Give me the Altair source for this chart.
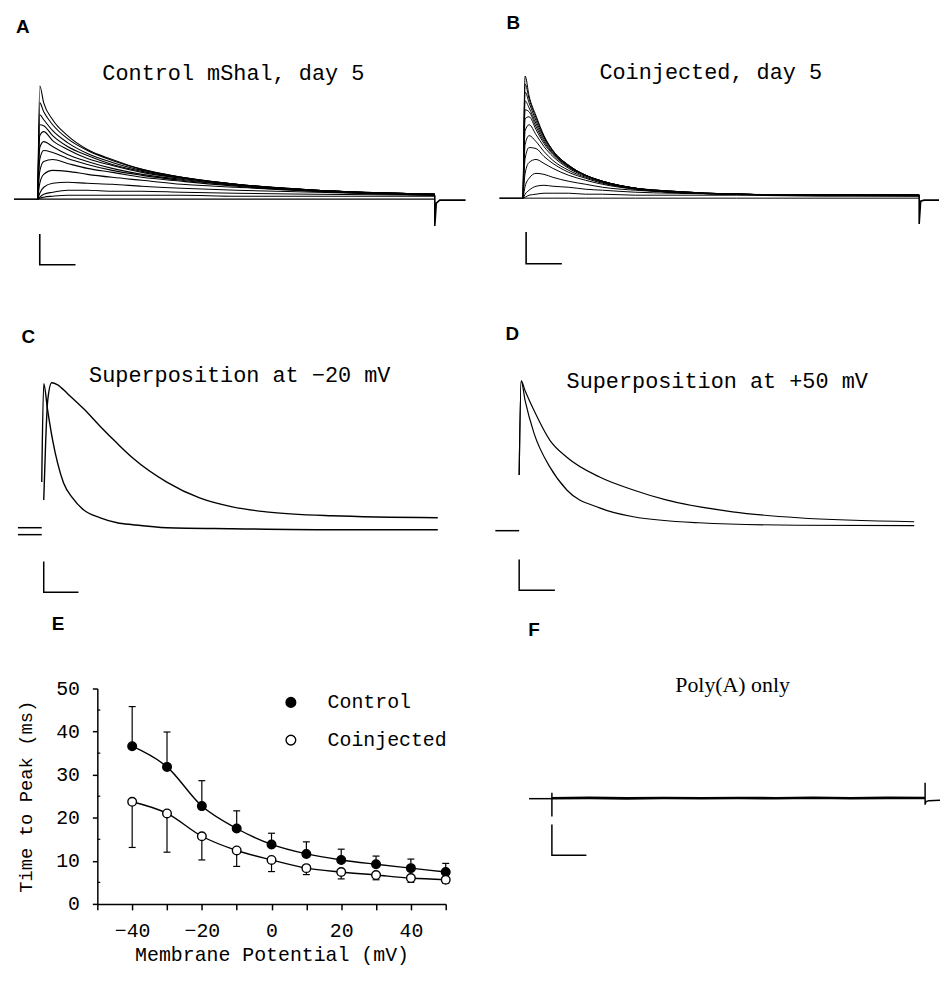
import altair as alt
import pandas as pd

MONO = "Liberation Mono"
SANS = "Liberation Sans"
SERIF = "Liberation Serif"

# ---------------- Panel A : Control mShal, day 5 (current traces, arbitrary units) ----------
A_time = [0, 2, 6, 15, 30, 50, 75, 105, 145, 200, 280, 400]
A_traces = [
    [0, 114, 97, 80, 64, 50, 40, 30, 22, 14, 8, 4],
    [0, 97, 88, 75, 61, 49, 39, 30, 22, 15, 9, 5],
    [0, 85, 80, 69, 57, 46, 37, 29, 22, 15, 9, 5],
    [0, 75, 74, 64, 53, 44, 35, 28, 21, 15, 9, 5],
    [0, 64, 68, 59, 50, 41, 34, 27, 21, 15, 9, 5],
    [0, 52, 58, 53, 45, 38, 31, 25, 20, 14, 9, 5],
    [0, 40, 49, 47, 41, 35, 29, 24, 19, 14, 9, 5],
    [0, 28, 38, 40, 36, 31, 27, 22, 18, 13, 8, 5],
    [0, 16, 25, 29, 28, 25, 22, 19, 15, 12, 8, 5],
    [0, 6, 12, 16, 17, 16, 15, 13, 11, 9, 7, 4],
    [0, 2, 5, 7, 9, 9, 8, 8, 7, 6, 5, 4],
    [0, 1, 2, 3, 4, 4, 4, 4, 4, 3, 3, 3],
    [0, 0, 0, 0, 0, 0, 0, 0, 0, 0, 0, 0],
]
A_pre_t, A_pre_v = [-24, 0], [0, 0]
A_tail_t, A_tail_v = [400, 400, 401.5, 405, 431], [4, -27, -4, -1, -1]
A_bar_t, A_bar_v = [2, 2, 38], [-35, -66, -66]

# ---------------- Panel B : Coinjected, day 5 ----------
B_time = [0, 2, 6, 13, 21, 30, 46, 63, 80, 113, 150, 215, 300, 399]
B_traces = [
    [0, 123, 103, 83, 63, 48, 33, 23, 16, 9, 6, 4, 3, 3],
    [0, 115, 100, 81, 62, 48, 33, 23, 17, 10, 6, 4, 3, 3],
    [0, 107, 96, 78, 61, 47, 33, 23, 17, 10, 6, 4, 3, 3],
    [0, 98, 91, 75, 59, 46, 32, 23, 17, 10, 6, 4, 3, 3],
    [0, 89, 87, 72, 57, 45, 32, 23, 17, 10, 6, 4, 3, 3],
    [0, 80, 82, 69, 55, 44, 31, 23, 17, 10, 7, 4, 3, 3],
    [0, 68, 74, 64, 52, 42, 30, 22, 17, 10, 7, 4, 3, 3],
    [0, 54, 63, 57, 47, 38, 28, 21, 16, 10, 7, 4, 3, 3],
    [0, 40, 51, 50, 42, 35, 26, 20, 15, 10, 7, 4, 3, 3],
    [0, 25, 36, 39, 35, 30, 23, 18, 14, 9, 6, 4, 3, 3],
    [0, 12, 20, 25, 24, 21, 17, 14, 11, 8, 6, 4, 3, 3],
    [0, 4, 8, 12, 13, 12, 11, 9, 8, 6, 5, 4, 3, 2],
    [0, 1, 3, 4, 5, 5, 5, 4, 4, 3, 3, 3, 2, 2],
    [0, 0, 0, 0, 0, 0, 0, 0, 0, 0, 0, 0, 0, 0],
]
B_pre_t, B_pre_v = [-24, 0], [0, 0]
B_tail_t, B_tail_v = [399, 399, 400.5, 404, 419], [3, -26, -3, -2, -2]
B_bar_t, B_bar_v = [3, 3, 39], [-34, -66, -66]

# ---------------- Panel C : Superposition at -20 mV ----------
C_ctrl_t = [0, 2, 4, 8, 14, 24, 40, 57, 74, 90, 124, 157, 190, 224, 290, 397]
C_ctrl_v = [35, 95, 135, 153, 151, 142, 127, 109, 92, 77, 53, 37, 28, 23, 19, 17]
C_coinj_t = [-2, 0, 4, 9, 14, 20, 29, 40, 57, 74, 90, 124, 190, 290, 397]
C_coinj_v = [53, 152, 125, 95, 72, 52, 37, 25, 17, 12, 10, 7, 6, 5, 5]
C_hold1_t, C_hold1_v = [-26, -2], [0, 0]
C_hold2_t, C_hold2_v = [-26, -2], [7, 7]
C_bar_t, C_bar_v = [0, 0, 35], [-27, -58, -58]

# ---------------- Panel D : Superposition at +50 mV ----------
D_ctrl_t = [0, 2, 6, 15, 31, 48, 81, 115, 148, 215, 281, 398]
D_ctrl_v = [56, 151, 141, 121, 91, 74, 54, 41, 31, 19, 13, 9]
D_coinj_t = [0, 2, 6, 15, 31, 48, 81, 115, 181, 281, 398]
D_coinj_v = [56, 151, 131, 98, 64, 41, 23, 14, 8, 5.5, 5]
D_hold_t, D_hold_v = [-24, 0], [0, 0]
D_bar_t, D_bar_v = [0, 0, 36], [-29, -60, -60]

# ---------------- Panel E : time to peak ----------
E_mv = [-40, -30, -20, -10, 0, 10, 20, 30, 40, 50]
E_ctrl = [36.6, 31.8, 22.7, 17.5, 13.8, 11.6, 10.2, 9.2, 8.3, 7.4]
E_ctrl_err = [45.8, 39.9, 28.6, 21.6, 16.4, 14.4, 12.7, 11.1, 10.4, 9.4]
E_coinj = [23.7, 21.0, 15.7, 12.4, 10.2, 8.3, 7.4, 6.7, 6.0, 5.6]
E_coinj_err = [13.1, 12.0, 10.2, 8.7, 7.5, 6.8, 5.8, 5.6, 5.0, 4.8]
E_groups = ["Control", "Coinjected"]
E_xticks = [-50, -40, -30, -20, -10, 0, 10, 20, 30, 40, 50]
E_yticks = [0, 10, 20, 30, 40, 50]
E_yminor = [5, 15, 25, 35, 45]

# ---------------- Panel F : Poly(A) only ----------
F_pre_t, F_pre_v = [-24.5, 0], [0, 0]
F_on_t, F_on_v = [0, 0], [6, -18]
F_main_t = [0, 40, 80, 120, 160, 200, 240, 280, 320, 360, 400]
F_main_v = [0.5, 0.8, 0.3, 0.7, 0.4, 0.6, 0.5, 0.9, 0.4, 0.8, 0.6]
F_end_t, F_end_v = [400, 400, 401, 404, 416], [16, -6, -3, -2, -1.5]
F_bar_t, F_bar_v = [0, 0, 37], [-26, -57, -57]

ONE = pd.DataFrame({"k": [0]})


def lines_df(groups):
    rows = []
    for name, ts, vs in groups:
        for i, (t, v) in enumerate(zip(ts, vs)):
            rows.append({"t": t, "v": v, "trace": name, "i": i})
    return pd.DataFrame(rows)


def line_layer(df, xs, ys, width=1.2, interp="linear"):
    return alt.Chart(df).mark_line(
        color="black", strokeWidth=width, interpolate=interp
    ).encode(
        x=alt.X("t:Q", scale=xs, axis=None),
        y=alt.Y("v:Q", scale=ys, axis=None),
        detail="trace:N",
        order="i:Q",
    )


def text_layer(text, x, y, font, size, weight="normal", align="center"):
    return alt.Chart(ONE).mark_text(
        text=text, font=font, fontSize=size, fontWeight=weight,
        align=align, baseline="middle", color="black"
    ).encode(x=alt.value(x), y=alt.value(y))


def sc(lo, hi):
    return alt.Scale(domain=[lo, hi], nice=False, zero=False)


# ---- A ----
xa, ya = sc(-29, 433), sc(-103, 189)
A_fam = lines_df([(f"a{k}", A_time, tr) for k, tr in enumerate(A_traces)])
A_misc = lines_df([("pre", A_pre_t, A_pre_v), ("tail", A_tail_t, A_tail_v),
                   ("bar", A_bar_t, A_bar_v)])
panelA = alt.layer(
    line_layer(A_fam, xa, ya, 1.1, "monotone"),
    line_layer(A_misc, xa, ya, 1.6),
    text_layer("A", 14, 16, SANS, 19, "bold"),
    text_layer("Control mShal, day 5", 226, 62, MONO, 22),
).properties(width=462, height=292)

# ---- B ----
xb, yb = sc(-54, 419), sc(-104, 188)
B_fam = lines_df([(f"b{k}", B_time, tr) for k, tr in enumerate(B_traces)])
B_misc = lines_df([("pre", B_pre_t, B_pre_v), ("tail", B_tail_t, B_tail_v),
                   ("bar", B_bar_t, B_bar_v)])
panelB = alt.layer(
    line_layer(B_fam, xb, yb, 1.0, "monotone"),
    line_layer(B_misc, xb, yb, 1.6),
    text_layer("B", 44, 12, SANS, 19, "bold"),
    text_layer("Coinjected, day 5", 243, 61, MONO, 22),
).properties(width=473, height=292)

# ---- C ----
xc, yc = sc(-35, 427), sc(-65, 235)
C_tr = lines_df([("ctrl", C_ctrl_t, C_ctrl_v), ("coinj", C_coinj_t, C_coinj_v)])
C_misc = lines_df([("h1", C_hold1_t, C_hold1_v), ("h2", C_hold2_t, C_hold2_v),
                   ("bar", C_bar_t, C_bar_v)])
panelC = alt.layer(
    line_layer(C_tr, xc, yc, 1.4, "monotone"),
    line_layer(C_misc, xc, yc, 1.5),
    text_layer("C", 19.5, 35.5, SANS, 19, "bold"),
    text_layer("Superposition at \u221220 mV", 232.5, 74, MONO, 22),
).properties(width=462, height=300)

# ---- D ----
xd, yd = sc(-52, 421), sc(-69, 231)
D_tr = lines_df([("ctrl", D_ctrl_t, D_ctrl_v), ("coinj", D_coinj_t, D_coinj_v)])
D_misc = lines_df([("hold", D_hold_t, D_hold_v), ("bar", D_bar_t, D_bar_v)])
panelD = alt.layer(
    line_layer(D_tr, xd, yd, 1.2, "monotone"),
    line_layer(D_misc, xd, yd, 1.5),
    text_layer("D", 45, 32.5, SANS, 19, "bold"),
    text_layer("Superposition at +50 mV", 251.5, 80, MONO, 22),
).properties(width=473, height=300)

# ---- E ----
rows = []
for m, v, e in zip(E_mv, E_ctrl, E_ctrl_err):
    rows.append({"mv": m, "mean": v, "err": e, "group": "Control"})
for m, v, e in zip(E_mv, E_coinj, E_coinj_err):
    rows.append({"mv": m, "mean": v, "err": e, "group": "Coinjected"})
E_df = pd.DataFrame(rows)

xe = alt.Scale(domain=[-50, 50], nice=False, zero=False)
ye = alt.Scale(domain=[0, 50], nice=False, zero=False)

x_axis = alt.Axis(
    values=E_xticks,
    labelExpr="(datum.value % 20 == 0 && abs(datum.value) != 50) ? datum.label : ''",
    title="Membrane Potential (mV)", grid=False,
    domainColor="black", domainWidth=1.5, tickColor="black", tickWidth=1.5, tickSize=6,
    labelFont=MONO, labelFontSize=20, labelColor="black", labelPadding=11,
    titleFont=MONO, titleFontSize=20, titleFontWeight="normal", titleColor="black",
    titleY=51, titleBaseline="middle",
)
y_axis = alt.Axis(
    values=E_yticks, title="Time to Peak (ms)", grid=False,
    domainColor="black", domainWidth=1.5, tickColor="black", tickWidth=1.5, tickSize=5,
    labelFont=MONO, labelFontSize=20, labelColor="black", labelPadding=13,
    titleFont=MONO, titleFontSize=19, titleFontWeight="normal", titleColor="black",
    titleX=-72, titleY=108.5, titleBaseline="middle", titleAlign="center",
)

fill_scale = alt.Scale(domain=E_groups, range=["black", "white"])

E_lines = alt.Chart(E_df).mark_line(color="black", strokeWidth=1.4, interpolate="monotone").encode(
    x=alt.X("mv:Q", scale=xe, axis=x_axis),
    y=alt.Y("mean:Q", scale=ye, axis=y_axis),
    detail="group:N",
)
E_err = alt.Chart(E_df).mark_rule(color="black", strokeWidth=1.2).encode(
    x=alt.X("mv:Q", scale=xe, axis=x_axis),
    y=alt.Y("mean:Q", scale=ye, axis=y_axis),
    y2="err:Q",
)
E_caps = alt.Chart(E_df).mark_rule(color="black", strokeWidth=1.2, xOffset=-3.5, x2Offset=3.5).encode(
    x=alt.X("mv:Q", scale=xe, axis=x_axis),
    x2="mv:Q",
    y=alt.Y("err:Q", scale=ye, axis=y_axis),
)
E_pts = alt.Chart(E_df).mark_point(
    shape="circle", size=75, filled=True, opacity=1, stroke="black", strokeWidth=1.4
).encode(
    x=alt.X("mv:Q", scale=xe, axis=x_axis),
    y=alt.Y("mean:Q", scale=ye, axis=y_axis),
    fill=alt.Fill("group:N", scale=fill_scale, legend=None),
)
E_minor = alt.Chart(pd.DataFrame({"y": E_yminor})).mark_rule(color="black", strokeWidth=1.2).encode(
    x=alt.value(0), x2=alt.value(3),
    y=alt.Y("y:Q", scale=ye, axis=y_axis),
)
# legend (drawn inside the plot area, as in the original figure)
E_leg_ctrl = alt.Chart(ONE).mark_point(
    shape="circle", size=95, filled=True, opacity=1, fill="black", stroke="black", strokeWidth=1.4
).encode(x=alt.value(195), y=alt.value(14))
E_leg_coin = alt.Chart(ONE).mark_point(
    shape="circle", size=95, filled=True, opacity=1, fill="white", stroke="black", strokeWidth=1.4
).encode(x=alt.value(195), y=alt.value(52))
# invisible white rule fixing the panel's left, top and right extent in the layout
E_bound = alt.Chart(ONE).mark_rule(color="white", strokeWidth=1).encode(
    x=alt.value(-86), x2=alt.value(375), y=alt.value(-89.5)
)
panelE = alt.layer(
    E_lines, E_err, E_caps, E_pts, E_minor, E_bound,
    E_leg_ctrl, E_leg_coin,
    text_layer("Control", 232, 14, MONO, 20, align="left"),
    text_layer("Coinjected", 232, 52, MONO, 20, align="left"),
    text_layer("E", -39.5, -65, SANS, 19, "bold"),
).properties(width=351, height=217)

# 1-px spacer so that the rows stay aligned on the left edge
spacer = alt.Chart(ONE).mark_rule(color="white", strokeWidth=1).encode(
    x=alt.value(0), x2=alt.value(1), y=alt.value(5)
).properties(width=1, height=10)

# ---- F ----  (plot area starts at the level of panel E's plot area)
xf, yf = sc(-87.2, 416), sc(-151, 111)
F_thin = lines_df([("pre", F_pre_t, F_pre_v), ("on", F_on_t, F_on_v),
                   ("end", F_end_t, F_end_v), ("bar", F_bar_t, F_bar_v)])
F_thick = lines_df([("main", F_main_t, F_main_v)])
panelF = alt.layer(
    line_layer(F_thin, xf, yf, 1.5),
    line_layer(F_thick, xf, yf, 2.6),
    text_layer("F", 64, -58.5, SANS, 19, "bold"),
    text_layer("Poly(A) only", 264, -3, SERIF, 22),
).properties(width=473, height=262)

row1 = alt.hconcat(panelA, panelB, spacing=0)
row2 = alt.hconcat(panelC, panelD, spacing=0)
row3 = alt.hconcat(spacer, panelE, panelF, spacing=0)

chart = alt.vconcat(row1, row2, row3, spacing=0).properties(
    padding=0, background="white"
).configure_view(stroke=None)

chart.save("out.html", embed_options={"renderer": "svg", "actions": False})
